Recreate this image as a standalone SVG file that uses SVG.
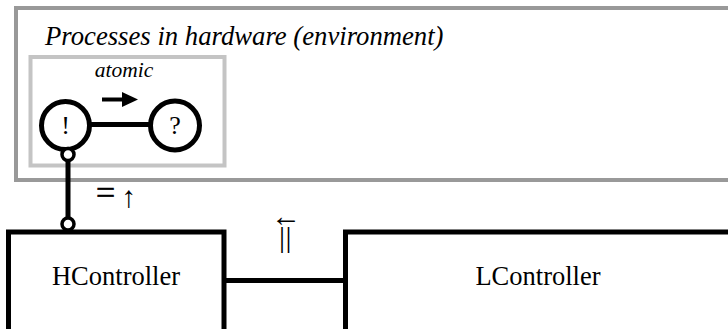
<svg xmlns="http://www.w3.org/2000/svg" width="728" height="329" viewBox="0 0 728 329">
<style>
  .serif { font-family: "Liberation Serif", "Times New Roman", serif; fill: #000; }
  .it { font-style: italic; }
  .box { fill: #fff; stroke: #000; stroke-width: 5; }
  .ring { fill: #fff; stroke: #000; stroke-width: 5; }
  .port { fill: #fff; stroke: #000; stroke-width: 3.5; }
  .wire { stroke: #000; stroke-width: 5; fill: none; }
</style>
<rect width="728" height="329" fill="#fff"/>
<g id="env">
  <rect x="16" y="8" width="720" height="172" fill="#fff" stroke="#999" stroke-width="4"/>
  <text class="serif it" x="45" y="45" font-size="26.7">Processes in hardware (environment)</text>
</g>
<g id="atomic">
  <rect x="30.5" y="57" width="194" height="108.5" fill="#fff" stroke="#c4c4c4" stroke-width="4"/>
  <text class="serif it" x="124" y="77" font-size="21.5" text-anchor="middle">atomic</text>
  <g id="atomic-arrow">
    <line x1="102" y1="99.5" x2="125" y2="99.5" stroke="#000" stroke-width="4"/>
    <polygon points="122,92 138,99.5 122,107" fill="#000"/>
  </g>
</g>
<g id="connectors">
  <line class="wire" x1="90" y1="124.5" x2="150" y2="124.5"/>
  <line class="wire" x1="68" y1="160" x2="68" y2="218" stroke-width="4.5"/>
  <line class="wire" x1="224" y1="280.5" x2="346" y2="280.5"/>
  <text class="serif" x="96" y="203.5" font-size="34" stroke="#000" stroke-width="0.6">=<tspan font-size="30" stroke-width="0" dx="6" dy="3">↑</tspan></text>
  <text class="serif" x="286" y="226" font-size="30" text-anchor="middle">←</text>
  <text class="serif" x="279" y="246.5" font-size="30" letter-spacing="0.6">||</text>
</g>
<g id="send">
  <circle class="ring" cx="65.5" cy="125.5" r="24"/>
  <text class="serif" x="65.5" y="134" font-size="26" text-anchor="middle">!</text>
</g>
<g id="receive">
  <circle class="ring" cx="175" cy="125.5" r="24.5"/>
  <text class="serif" x="175" y="134" font-size="26" text-anchor="middle">?</text>
</g>
<g id="port-top">
  <circle class="port" cx="68" cy="154.5" r="6"/>
</g>
<g id="HController">
  <rect class="box" x="8.5" y="232" width="215.5" height="110"/>
  <circle class="port" cx="68" cy="224" r="6"/>
  <text class="serif" x="116" y="285" font-size="26.5" text-anchor="middle">HController</text>
</g>
<g id="LController">
  <rect class="box" x="345.5" y="232" width="390" height="110"/>
  <text class="serif" x="538" y="285" font-size="26.5" text-anchor="middle">LController</text>
</g>
</svg>
